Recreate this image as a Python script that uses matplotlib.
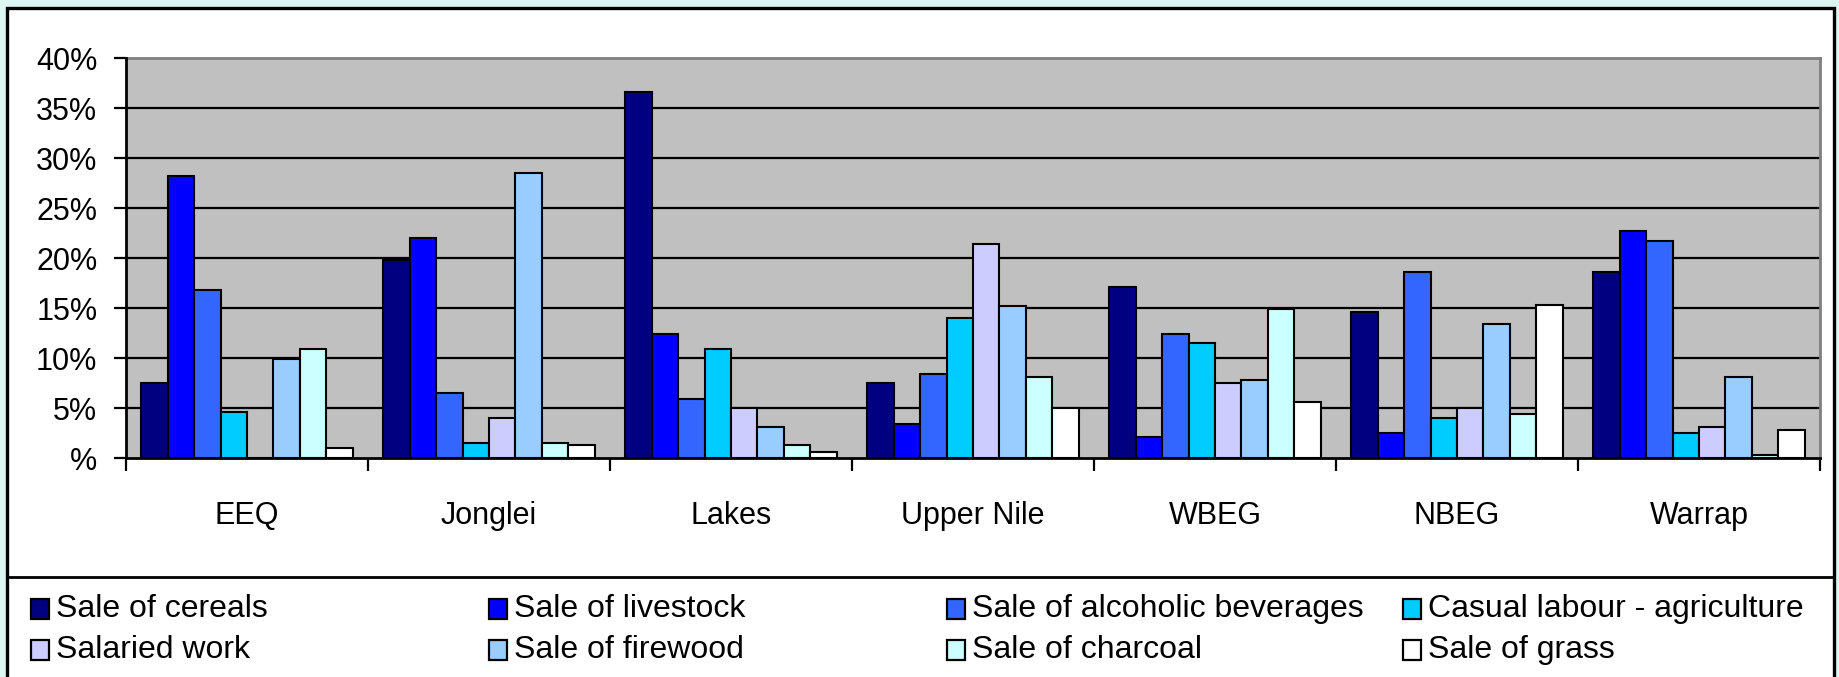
import matplotlib
matplotlib.use('Agg')
import matplotlib.pyplot as plt
from matplotlib.patches import Rectangle
from matplotlib.lines import Line2D
import numpy as np

# ---------------- data ----------------
regions = ['EEQ', 'Jonglei', 'Lakes', 'Upper Nile', 'WBEG', 'NBEG', 'Warrap']
series_names = ['Sale of cereals', 'Sale of livestock', 'Sale of alcoholic beverages',
                'Casual labour - agriculture', 'Salaried work', 'Sale of firewood',
                'Sale of charcoal', 'Sale of grass']
sale_cereals = [7.5, 19.8, 36.6, 7.5, 17.1, 14.6, 18.6]
sale_livestock = [28.2, 22.0, 12.4, 3.4, 2.1, 2.5, 22.7]
sale_alcohol = [16.8, 6.5, 5.9, 8.4, 12.4, 18.6, 21.7]
casual_labour = [4.6, 1.5, 10.9, 14.0, 11.5, 4.0, 2.5]
salaried_work = [0.0, 4.0, 5.0, 21.4, 7.5, 5.0, 3.1]
sale_firewood = [9.9, 28.5, 3.1, 15.2, 7.8, 13.4, 8.1]
sale_charcoal = [10.9, 1.5, 1.3, 8.1, 14.9, 4.4, 0.3]
sale_grass = [1.0, 1.3, 0.6, 5.0, 5.6, 15.3, 2.8]
y_ticks = [0, 5, 10, 15, 20, 25, 30, 35, 40]
y_tick_labels = ['%', '5%', '10%', '15%', '20%', '25%', '30%', '35%', '40%']

series_values = [sale_cereals, sale_livestock, sale_alcohol, casual_labour,
                 salaried_work, sale_firewood, sale_charcoal, sale_grass]
colors = ['#000080', '#0000FF', '#3366FF', '#00CCFF',
          '#CCCCFF', '#99CCFF', '#CCFFFF', '#FFFFFF']

plt.rcParams['font.family'] = ['Liberation Sans', 'DejaVu Sans']
FS_AX = 22
FS_LEG = 23

W, H = 1839, 677
fig = plt.figure(figsize=(W / 100, H / 100), dpi=100)
fig.patch.set_facecolor('#DDF6F2')

def fx(px):
    return px / W

def fy(py):
    return 1 - py / H

# white panel with black border
fig.add_artist(Rectangle((fx(7), fy(690)), fx(1834) - fx(7), fy(8) - fy(690),
                         transform=fig.transFigure, facecolor='white',
                         edgecolor='black', linewidth=2.4, zorder=0))
# legend separator
fig.add_artist(Line2D([fx(7), fx(1834)], [fy(577), fy(577)],
                      transform=fig.transFigure, color='black', linewidth=2.0))

# ---------------- axes ----------------
ax_left, ax_right, ax_top, ax_bottom = 126, 1820, 58.3, 458.3
ax = fig.add_axes([fx(ax_left), fy(ax_bottom), fx(ax_right) - fx(ax_left),
                   fy(ax_top) - fy(ax_bottom)])
ax.set_facecolor('#C0C0C0')

x = np.arange(len(regions))
bw = 0.109
n = len(series_values)
for j, (vals, col, name) in enumerate(zip(series_values, colors, series_names)):
    ax.bar(x + (j - (n - 1) / 2) * bw, vals, width=bw, color=col,
           edgecolor='black', linewidth=1.5, label=name, zorder=3)

ax.set_xlim(-0.5, len(regions) - 0.5)
ax.set_ylim(0, 40)
ax.set_yticks(y_ticks)
ax.set_yticklabels(y_tick_labels, fontsize=FS_AX)
for yv in y_ticks[1:-1]:
    ax.axhline(yv, color='black', linewidth=1.6, zorder=1)

ax.set_xticks(x)
ax.set_xticklabels(regions, fontsize=FS_AX)
ax.set_xticks(np.arange(-0.5, len(regions)), minor=True)
ax.tick_params(axis='x', which='major', length=0, pad=31)
ax.tick_params(axis='x', which='minor', length=9, width=1.6, direction='out')
ax.tick_params(axis='y', length=8.6, width=1.6, direction='out', pad=12)

for s in ['left', 'bottom']:
    ax.spines[s].set_color('black')
    ax.spines[s].set_linewidth(2.0)
for s in ['top', 'right']:
    ax.spines[s].set_color('#808080')
    ax.spines[s].set_linewidth(2.0)
ax.spines['left'].set_zorder(5)
ax.spines['bottom'].set_zorder(5)

# ---------------- legend (manual, row-wise like the original) ----------------
col_x = [31, 489, 947, 1403]
row_y = [609, 650]
mw, mh = 18, 20
for i, (name, col) in enumerate(zip(series_names, colors)):
    cx = col_x[i % 4]
    cy = row_y[i // 4]
    fig.add_artist(Rectangle((fx(cx), fy(cy + mh / 2)), fx(cx + mw) - fx(cx),
                             fy(cy - mh / 2) - fy(cy + mh / 2),
                             transform=fig.transFigure, facecolor=col,
                             edgecolor='black', linewidth=1.6))
    fig.text(fx(cx + 25), fy(cy), name, fontsize=FS_LEG, ha='left', va='center')

fig.savefig('out.png', dpi=100, facecolor=fig.get_facecolor())
